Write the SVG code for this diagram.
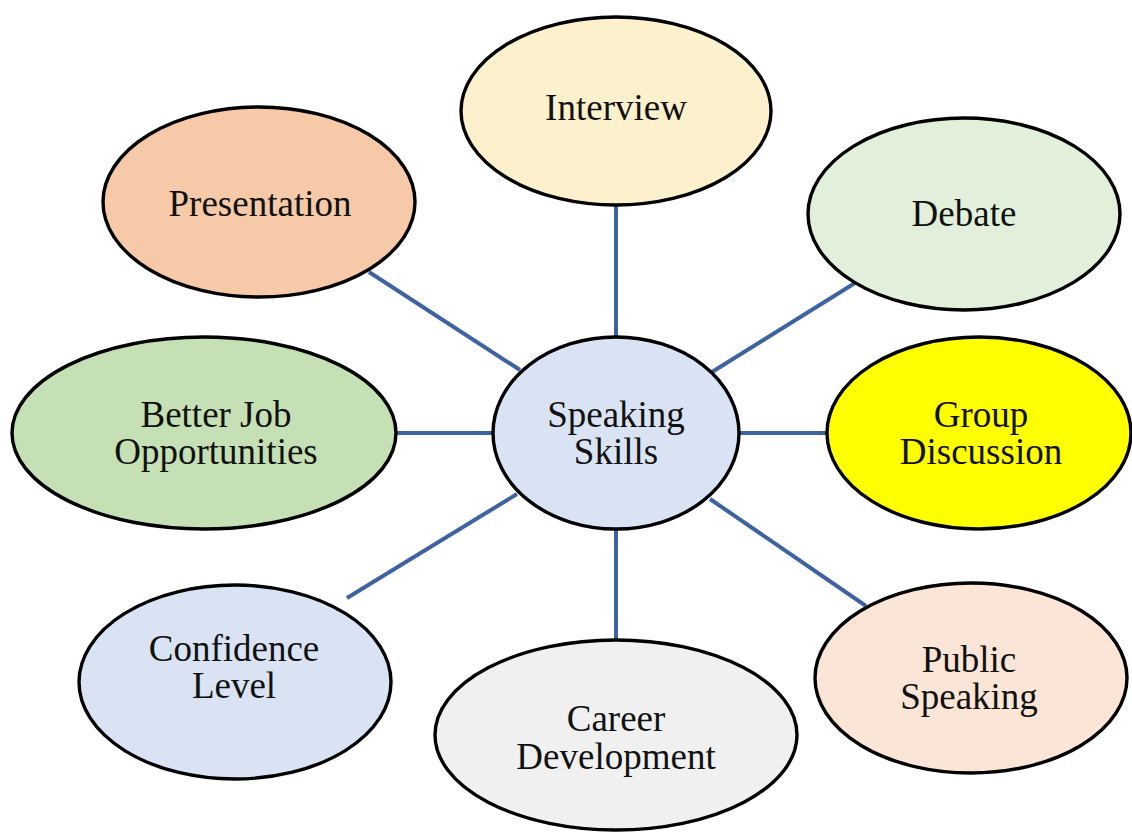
<svg xmlns="http://www.w3.org/2000/svg" width="1132" height="832" viewBox="0 0 1132 832">
  <style>
    .node { stroke: #000; stroke-width: 3.4; }
    .label { font-family: "Liberation Serif", "Times New Roman", serif; font-size: 37px; fill: #111; text-anchor: middle; }
    .link { stroke: #3f63a0; stroke-width: 4; fill: none; }
  </style>
  <rect width="1132" height="832" fill="#fff"/>

  <!-- spokes from the hub to each surrounding topic -->
  <g id="connectors">
    <line class="link" x1="616" y1="205" x2="616" y2="338"/>
    <line class="link" x1="369" y1="272" x2="520" y2="370"/>
    <line class="link" x1="855" y1="283" x2="712" y2="372"/>
    <line class="link" x1="396" y1="433" x2="494" y2="433"/>
    <line class="link" x1="739" y1="433" x2="827" y2="433"/>
    <line class="link" x1="347" y1="598" x2="517" y2="494"/>
    <line class="link" x1="616" y1="529" x2="616" y2="641"/>
    <line class="link" x1="710" y1="499" x2="866" y2="606"/>
  </g>

  <g id="interview">
    <ellipse class="node" cx="616" cy="111" rx="155" ry="94" fill="#fdf0cc"/>
    <text class="label" x="616" y="120">Interview</text>
  </g>

  <g id="presentation">
    <ellipse class="node" cx="259" cy="202" rx="156" ry="95" fill="#f6c9a9"/>
    <text class="label" x="260" y="216">Presentation</text>
  </g>

  <g id="debate">
    <ellipse class="node" cx="964" cy="214" rx="156" ry="96" fill="#e2efda"/>
    <text class="label" x="964" y="226">Debate</text>
  </g>

  <g id="better-job">
    <ellipse class="node" cx="204" cy="433" rx="192" ry="96" fill="#c5e0b4"/>
    <text class="label" x="216" y="427">Better Job<tspan x="216" dy="37">Opportunities</tspan></text>
  </g>

  <g id="speaking-skills">
    <ellipse class="node" cx="616" cy="433" rx="123" ry="96" fill="#dae3f3"/>
    <text class="label" x="616" y="427">Speaking<tspan x="616" dy="37">Skills</tspan></text>
  </g>

  <g id="group-discussion">
    <ellipse class="node" cx="979" cy="433" rx="152" ry="96" fill="#ffff00"/>
    <text class="label" x="981" y="427">Group<tspan x="981" dy="37">Discussion</tspan></text>
  </g>

  <g id="confidence">
    <ellipse class="node" cx="235" cy="682" rx="156" ry="97" fill="#dae3f3"/>
    <text class="label" x="234" y="661">Confidence<tspan x="234" dy="37">Level</tspan></text>
  </g>

  <g id="career">
    <ellipse class="node" cx="616" cy="735" rx="181" ry="95" fill="#f0f0f0"/>
    <text class="label" x="616" y="731">Career<tspan x="616" dy="38">Development</tspan></text>
  </g>

  <g id="public-speaking">
    <ellipse class="node" cx="971" cy="678" rx="156" ry="95" fill="#fbe5d6"/>
    <text class="label" x="969" y="672">Public<tspan x="969" dy="37">Speaking</tspan></text>
  </g>
</svg>
